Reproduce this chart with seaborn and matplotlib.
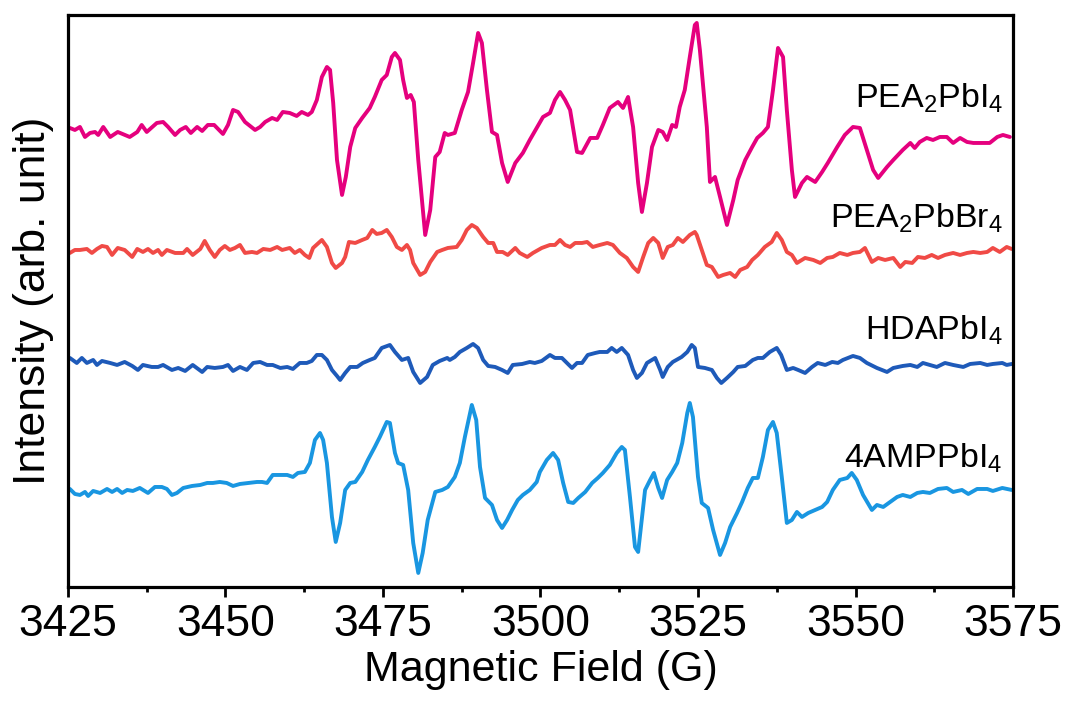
import matplotlib
matplotlib.use("Agg")
import matplotlib.pyplot as plt
from matplotlib.ticker import MultipleLocator
import numpy as np
import pandas as pd
import seaborn as sns

# EPR spectra: field (G) and derivative signal (arb.)
pea_pbi4_field = [
    3425.3, 3426.1, 3426.9, 3427.7, 3428.5, 3429.3, 3429.8, 3430.6, 3431.7, 3432.9,
    3434.8, 3436.0, 3436.7, 3437.5, 3439.1, 3440.1, 3440.9, 3442.0, 3442.8, 3443.7,
    3444.5, 3445.5, 3446.3, 3447.2, 3448.2, 3449.6, 3450.4, 3451.2, 3452.0, 3453.1,
    3454.7, 3455.5, 3456.3, 3457.4, 3458.2, 3459.1, 3460.2, 3461.3, 3462.1, 3463.1,
    3463.7, 3464.5, 3465.3, 3466.1, 3466.6, 3467.1, 3467.7, 3468.5, 3469.1, 3469.8,
    3470.6, 3471.7, 3472.9, 3473.7, 3474.8, 3475.6, 3476.4, 3476.9, 3477.7, 3478.2,
    3478.8, 3479.4, 3479.9, 3480.6, 3481.7, 3482.5, 3483.3, 3484.0, 3484.8, 3485.3,
    3486.4, 3487.5, 3488.5, 3489.3, 3490.1, 3490.7, 3491.5, 3492.3, 3493.1, 3493.9,
    3494.8, 3496.0, 3497.2, 3498.3, 3499.4, 3500.4, 3501.5, 3502.3, 3503.1, 3503.9,
    3504.7, 3505.8, 3506.6, 3507.9, 3509.0, 3509.9, 3511.0, 3512.3, 3513.1, 3513.9,
    3514.7, 3515.5, 3516.1, 3516.9, 3517.7, 3518.7, 3519.4, 3520.1, 3520.9, 3521.5,
    3522.1, 3522.9, 3523.7, 3524.5, 3524.8, 3525.3, 3526.4, 3526.9, 3527.7, 3528.5,
    3529.6, 3530.6, 3531.3, 3532.5, 3533.6, 3534.4, 3535.3, 3536.1, 3536.9, 3537.7,
    3538.5, 3539.1, 3539.9, 3540.4, 3541.5, 3542.3, 3543.1, 3543.6, 3544.7, 3545.6,
    3547.1, 3548.3, 3549.6, 3550.7, 3551.8, 3552.8, 3553.6, 3555.0, 3556.0, 3557.5,
    3558.7, 3559.4, 3560.2, 3561.3, 3562.3, 3563.4, 3564.5, 3565.5, 3566.6, 3567.7,
    3568.7, 3570.1, 3571.3, 3572.5, 3573.4, 3574.5,
]
pea_pbi4_signal = [
    0.2, 0.0, 0.3, -0.7, -0.3, -0.2, -0.5, 0.3, -0.7, -0.2,
    -0.7, -0.2, 0.5, -0.2, 0.7, 0.8, 0.3, -0.5, 0.0, 0.3,
    -0.3, 0.3, -0.1, 0.5, 0.5, -0.4, 0.5, 2.0, 1.8, 0.8,
    0.0, 0.3, 0.8, 1.2, 1.0, 1.8, 1.7, 1.4, 1.8, 1.5,
    1.8, 3.0, 5.3, 6.3, 6.0, 2.7, -3.0, -6.5, -4.7, -1.7,
    0.2, 1.2, 2.2, 3.3, 5.0, 5.5, 7.3, 7.7, 7.0, 5.0,
    3.2, 3.5, 2.8, -3.0, -10.5, -8.0, -2.7, -2.2, -0.3, -0.5,
    -0.3, 2.0, 3.8, 6.7, 9.7, 8.7, 4.0, -0.2, -0.5, -3.3,
    -5.2, -3.3, -2.3, -1.0, 0.2, 1.3, 1.7, 3.0, 3.8, 3.0,
    2.0, -2.2, -2.3, -0.8, -0.8, 0.5, 2.2, 2.8, 2.2, 3.3,
    0.3, -5.3, -8.2, -5.3, -1.7, 0.0, -0.2, -1.0, 0.5, 0.3,
    2.3, 4.0, 7.3, 10.5, 10.7, 8.0, 0.3, -5.2, -4.7, -6.7,
    -9.5, -7.0, -5.0, -3.0, -1.7, -0.8, -0.3, 0.3, 4.0, 8.2,
    7.3, 2.0, -4.0, -6.7, -5.3, -4.7, -5.0, -5.2, -4.2, -3.3,
    -1.7, -0.5, 0.3, 0.2, -2.0, -4.0, -4.8, -3.7, -3.0, -2.0,
    -1.3, -1.8, -1.2, -0.8, -1.0, -0.7, -0.7, -1.3, -0.8, -1.2,
    -1.3, -1.3, -1.3, -0.7, -0.5, -0.7,
]

pea_pbbr4_field = [
    3425.3, 3426.1, 3426.9, 3428.0, 3428.8, 3429.6, 3430.4, 3431.2, 3432.0, 3432.9,
    3434.0, 3435.2, 3436.0, 3436.9, 3437.7, 3438.5, 3439.3, 3439.9, 3440.7, 3442.0,
    3443.3, 3443.9, 3444.8, 3446.0, 3446.7, 3447.5, 3448.3, 3449.1, 3449.9, 3450.7,
    3451.5, 3452.3, 3453.1, 3454.2, 3455.0, 3456.0, 3457.1, 3458.2, 3459.0, 3460.2,
    3461.0, 3461.8, 3462.6, 3463.3, 3463.9, 3465.3, 3466.1, 3466.9, 3467.5, 3468.5,
    3469.0, 3469.6, 3470.6, 3471.7, 3472.5, 3473.3, 3474.0, 3474.8, 3475.6, 3476.4,
    3477.2, 3478.0, 3478.8, 3479.3, 3479.8, 3480.9, 3481.7, 3482.5, 3483.6, 3484.4,
    3485.3, 3486.7, 3487.5, 3488.3, 3489.1, 3489.9, 3490.9, 3491.7, 3492.5, 3493.1,
    3494.0, 3494.8, 3496.0, 3496.7, 3497.9, 3498.8, 3500.2, 3501.5, 3502.3, 3503.1,
    3503.9, 3504.7, 3505.5, 3506.6, 3507.4, 3508.3, 3509.4, 3510.6, 3511.5, 3512.6,
    3513.7, 3514.7, 3515.5, 3516.3, 3517.1, 3517.9, 3518.7, 3519.4, 3520.2, 3521.0,
    3521.8, 3522.6, 3523.7, 3524.5, 3524.8, 3525.6, 3526.4, 3527.2, 3528.2, 3529.0,
    3530.1, 3530.9, 3531.7, 3532.8, 3533.6, 3534.5, 3535.6, 3536.7, 3537.5, 3538.3,
    3539.1, 3539.9, 3540.7, 3542.0, 3543.3, 3544.4, 3545.5, 3546.4, 3547.5, 3548.7,
    3549.6, 3550.7, 3551.5, 3552.6, 3553.6, 3554.7, 3556.0, 3557.1, 3557.9, 3559.0,
    3559.9, 3561.0, 3562.1, 3563.1, 3564.2, 3565.5, 3566.6, 3567.7, 3568.7, 3569.8,
    3570.9, 3571.8, 3572.9, 3574.0, 3574.8,
]
pea_pbbr4_signal = [
    -0.3, 0.0, 0.0, 0.1, -0.3, 0.1, 0.4, 0.3, -0.5, 0.2,
    0.0, -0.7, 0.1, -0.2, 0.1, -0.3, 0.0, -0.5, 0.0, -0.3,
    -0.3, 0.1, -0.5, 0.1, 0.9, 0.0, -0.7, 0.0, 0.4, 0.0,
    0.2, 0.5, -0.3, -0.2, -0.3, 0.1, 0.0, 0.3, 0.0, 0.2,
    -0.3, 0.0, -0.5, -0.8, 0.2, 1.0, 0.3, -1.3, -1.8, -1.3,
    -0.7, 0.8, 0.7, 1.0, 1.2, 2.0, 1.6, 1.7, 2.0, 1.3,
    0.3, 0.0, 0.5, 0.0, -1.3, -2.5, -2.2, -1.2, -0.2, 0.0,
    0.2, 0.3, 1.0, 2.0, 2.5, 2.2, 1.3, 0.7, 0.7, -0.2,
    -0.2, -0.5, 0.2, -0.3, -0.7, -0.3, 0.2, 0.5, 0.5, 1.0,
    0.5, 0.3, 0.7, 0.7, 0.8, 0.3, 0.5, 0.7, 0.5, -0.3,
    -0.8, -1.7, -2.2, -0.7, 0.7, 1.2, 0.7, -0.8, 0.3, 0.5,
    1.2, 0.8, 1.5, 1.8, 1.5, 0.0, -1.5, -1.7, -2.7, -2.5,
    -2.3, -2.7, -2.0, -1.7, -1.0, -0.5, 0.3, 0.8, 1.7, 1.0,
    -0.2, -0.5, -1.3, -0.8, -1.0, -1.3, -0.8, -0.7, -0.3, -0.5,
    -0.3, -0.2, 0.2, -1.2, -0.8, -1.0, -0.8, -1.7, -1.2, -1.3,
    -0.7, -0.8, -0.5, -0.8, -0.5, -0.3, -0.5, -0.3, -0.2, -0.3,
    -0.2, 0.2, -0.2, 0.3, 0.1,
]

hdapbi4_field = [
    3425.3, 3426.4, 3427.2, 3428.0, 3429.0, 3429.6, 3430.4, 3431.7, 3432.8, 3434.0,
    3435.2, 3436.1, 3436.9, 3438.3, 3439.3, 3440.1, 3441.5, 3442.5, 3443.6, 3444.8,
    3446.3, 3447.1, 3448.3, 3449.6, 3450.4, 3451.2, 3452.3, 3453.4, 3454.4, 3455.5,
    3456.6, 3457.5, 3458.7, 3459.8, 3460.7, 3461.8, 3462.9, 3463.7, 3464.5, 3465.3,
    3466.1, 3466.9, 3467.7, 3468.2, 3469.0, 3469.8, 3470.9, 3471.8, 3472.9, 3473.7,
    3474.8, 3476.1, 3476.9, 3478.0, 3479.0, 3479.8, 3480.9, 3482.0, 3482.9, 3484.0,
    3485.2, 3485.6, 3486.4, 3487.2, 3488.3, 3489.3, 3490.1, 3490.9, 3491.7, 3492.8,
    3493.9, 3494.8, 3495.6, 3497.1, 3498.3, 3499.1, 3500.2, 3501.5, 3502.3, 3503.4,
    3504.2, 3505.0, 3505.8, 3506.6, 3507.5, 3508.7, 3509.4, 3510.6, 3511.3, 3512.1,
    3512.9, 3513.9, 3514.7, 3515.3, 3516.1, 3516.9, 3518.2, 3519.0, 3519.4, 3520.2,
    3521.0, 3522.4, 3523.3, 3524.0, 3524.5, 3525.0, 3526.1, 3527.2, 3528.0, 3528.7,
    3529.6, 3530.6, 3531.3, 3532.5, 3533.7, 3534.5, 3535.3, 3536.4, 3537.5, 3538.2,
    3539.1, 3540.1, 3540.9, 3542.0, 3543.1, 3544.0, 3545.2, 3546.3, 3547.2, 3548.0,
    3549.6, 3550.7, 3551.8, 3553.4, 3555.0, 3556.0, 3557.5, 3558.7, 3559.8, 3560.7,
    3561.8, 3562.9, 3564.2, 3565.5, 3567.1, 3568.2, 3569.8, 3570.9, 3571.8, 3573.3,
    3574.0, 3574.8,
]
hdapbi4_signal = [
    0.7, 0.2, 0.7, 0.2, 0.5, 0.0, 0.4, 0.2, 0.0, 0.3,
    -0.1, -0.5, 0.0, -0.2, -0.2, 0.0, -0.5, -0.3, -0.6, 0.0,
    -0.7, -0.2, -0.3, -0.2, 0.0, -0.6, -0.2, -0.5, 0.2, 0.3,
    0.0, 0.0, -0.3, -0.2, -0.4, 0.2, 0.2, 0.4, 1.0, 1.0,
    0.5, -0.5, -1.1, -1.5, -0.8, -0.2, -0.2, 0.2, 0.5, 0.7,
    1.7, 2.0, 1.3, 0.5, 0.7, -0.7, -1.8, -1.2, 0.0, 0.4,
    0.7, 0.5, 0.8, 1.3, 1.7, 2.1, 1.7, 0.5, -0.1, -0.2,
    -0.5, -0.8, 0.0, 0.1, 0.3, 0.2, 0.4, 1.0, 0.7, 0.7,
    0.2, -0.3, 0.2, 0.2, 1.0, 1.2, 1.3, 1.3, 1.7, 1.3,
    1.7, 1.0, -0.5, -1.3, -0.8, 0.2, 0.7, -0.5, -1.2, -0.2,
    0.3, 0.8, 1.3, 2.0, 1.7, -0.2, -0.3, -0.5, -1.3, -1.8,
    -1.3, -0.7, -0.2, -0.1, 0.5, 0.7, 0.7, 1.3, 1.7, 1.0,
    -0.5, -0.3, -0.5, -0.8, -0.2, 0.2, 0.0, 0.3, 0.2, 0.5,
    0.9, 0.7, 0.2, -0.3, -0.7, -0.3, -0.1, 0.0, -0.2, 0.2,
    0.0, -0.2, 0.2, 0.0, -0.2, 0.1, 0.2, 0.0, 0.1, 0.2,
    0.0, 0.1,
]

amp_pbi4_field = [
    3425.3, 3426.1, 3426.9, 3427.7, 3428.2, 3429.0, 3430.1, 3431.2, 3432.0, 3432.8,
    3433.6, 3434.4, 3435.3, 3436.4, 3437.7, 3438.8, 3439.9, 3440.7, 3441.5, 3442.3,
    3443.3, 3444.7, 3446.0, 3447.1, 3448.0, 3449.1, 3450.2, 3451.2, 3452.3, 3453.6,
    3455.0, 3455.8, 3456.6, 3457.5, 3458.7, 3459.8, 3460.7, 3461.5, 3462.6, 3463.4,
    3464.2, 3465.0, 3465.5, 3466.1, 3466.9, 3467.5, 3468.2, 3469.0, 3469.8, 3470.6,
    3471.7, 3472.6, 3473.7, 3474.5, 3475.6, 3476.1, 3476.9, 3477.4, 3478.2, 3479.0,
    3479.8, 3480.6, 3481.3, 3482.1, 3483.3, 3484.4, 3485.3, 3486.4, 3487.2, 3488.0,
    3489.1, 3489.8, 3490.4, 3491.2, 3492.3, 3493.1, 3493.9, 3494.7, 3495.5, 3496.4,
    3497.2, 3498.3, 3499.4, 3499.9, 3501.0, 3502.0, 3502.8, 3503.6, 3504.4, 3505.2,
    3506.0, 3507.1, 3508.2, 3509.1, 3509.9, 3511.0, 3512.1, 3512.9, 3513.4, 3514.2,
    3515.0, 3515.5, 3516.6, 3517.4, 3518.0, 3518.7, 3519.3, 3520.1, 3520.9, 3521.7,
    3522.5, 3523.3, 3523.7, 3524.2, 3525.0, 3525.6, 3526.6, 3527.4, 3528.5, 3529.3,
    3530.1, 3531.2, 3532.0, 3532.9, 3533.7, 3534.5, 3535.3, 3536.1, 3536.9, 3537.5,
    3538.3, 3539.1, 3539.9, 3540.7, 3541.5, 3542.5, 3543.6, 3544.7, 3545.5, 3546.4,
    3547.5, 3548.7, 3549.4, 3550.2, 3551.2, 3552.6, 3553.4, 3554.4, 3555.5, 3556.6,
    3557.5, 3558.7, 3559.8, 3560.7, 3561.8, 3563.1, 3564.5, 3565.5, 3566.9, 3567.9,
    3569.3, 3570.9, 3571.8, 3573.3, 3574.8,
]
amp_pbi4_signal = [
    0.1, -0.4, -0.5, -0.2, -0.6, -0.1, -0.3, 0.1, -0.2, 0.1,
    -0.3, 0.0, -0.1, 0.2, -0.3, 0.3, 0.3, 0.1, -0.5, -0.3,
    0.2, 0.4, 0.5, 0.7, 0.7, 0.8, 0.7, 0.4, 0.6, 0.7,
    0.8, 0.8, 0.7, 1.5, 1.5, 1.5, 1.3, 1.7, 1.8, 2.7,
    5.0, 5.7, 5.0, 2.7, -2.7, -5.2, -3.3, 0.0, 0.7, 0.8,
    1.8, 3.0, 4.3, 5.3, 6.8, 6.7, 3.7, 2.7, 2.5, 0.0,
    -5.3, -8.3, -6.3, -3.0, -0.2, 0.0, 0.3, 1.3, 2.7, 5.3,
    8.5, 7.0, 2.3, -0.8, -1.5, -3.0, -3.8, -3.0, -2.0, -1.0,
    -0.5, 0.0, 0.8, 1.8, 3.0, 3.7, 3.0, 0.7, -1.2, -1.3,
    -0.8, -0.2, 0.7, 1.2, 1.7, 2.5, 3.7, 4.3, 4.0, -0.7,
    -5.7, -6.2, 0.0, 1.0, 1.7, 0.2, -0.8, 1.0, 1.8, 2.7,
    4.7, 7.7, 8.7, 7.3, 1.3, -1.3, -1.8, -4.0, -6.5, -5.3,
    -3.7, -2.3, -1.2, 0.2, 1.2, 1.2, 3.3, 6.0, 6.8, 5.7,
    1.3, -3.3, -3.0, -2.2, -2.7, -2.3, -2.0, -1.7, -1.2, 0.0,
    1.0, 1.2, 1.7, 1.0, -0.5, -2.0, -1.5, -1.7, -1.2, -0.7,
    -0.5, -0.7, -0.3, -0.2, -0.3, 0.1, 0.2, -0.2, 0.0, -0.4,
    0.1, 0.1, -0.1, 0.2, 0.0,
]

samples = ["PEA$_2$PbI$_4$", "PEA$_2$PbBr$_4$", "HDAPbI$_4$", "4AMPPbI$_4$"]
offsets = [45.7, 33.7, 22.2, 9.7]
label_y = [47.9, 35.9, 24.7, 11.9]
colors = ["#E5007E", "#F04A46", "#1E5AB9", "#1996E1"]

fields = [pea_pbi4_field, pea_pbbr4_field, hdapbi4_field, amp_pbi4_field]
signals = [pea_pbi4_signal, pea_pbbr4_signal, hdapbi4_signal, amp_pbi4_signal]

frames = []
for name, fld, sig, off in zip(samples, fields, signals, offsets):
    frames.append(
        pd.DataFrame({"field": fld, "signal": np.array(sig) + off, "sample": name})
    )
df = pd.concat(frames, ignore_index=True)

sns.set_style("ticks")
plt.rcParams["font.family"] = ["Liberation Sans", "DejaVu Sans"]
plt.rcParams["mathtext.default"] = "regular"

fig = plt.figure(figsize=(10.67, 7.06), dpi=100)
ax = fig.add_axes([0.0637, 0.1686, 0.8857, 0.8102])

sns.lineplot(
    data=df,
    x="field",
    y="signal",
    hue="sample",
    palette=dict(zip(samples, colors)),
    estimator=None,
    sort=False,
    linewidth=2.8,
    legend=False,
    ax=ax,
)
for line in ax.get_lines():
    line.set_solid_joinstyle("round")
    line.set_solid_capstyle("round")

for name, y in zip(samples, label_y):
    ax.text(3573.4, y, name, ha="right", va="baseline", fontsize=24.5, color="black")

ax.set_xlim(3425, 3575)
ax.set_ylim(0, 57.2)
ax.xaxis.set_major_locator(MultipleLocator(25))
ax.xaxis.set_minor_locator(MultipleLocator(12.5))
ax.set_yticks([])
ax.tick_params(axis="x", which="major", direction="out", length=7, width=2,
               labelsize=32, pad=5, colors="black")
ax.tick_params(axis="x", which="minor", direction="out", length=3.5, width=2,
               colors="black")
for sp in ax.spines.values():
    sp.set_linewidth(2.3)
    sp.set_color("black")

ax.set_xlabel("Magnetic Field (G)", fontsize=31, labelpad=4, color="black")
ax.set_ylabel("Intensity (arb. unit)", fontsize=32, labelpad=10, color="black")

fig.savefig("out.png", dpi=100)
